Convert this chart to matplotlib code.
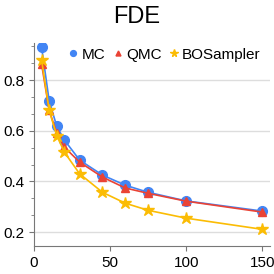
import numpy as np
import matplotlib.pyplot as plt
from matplotlib.ticker import AutoMinorLocator

plt.rcParams['font.family'] = ['Liberation Sans', 'DejaVu Sans']

x = [5, 10, 15, 20, 30, 45, 60, 75, 100, 150]
mc = [0.93, 0.717, 0.617, 0.563, 0.484, 0.425, 0.385, 0.357, 0.323, 0.283]
qmc = [0.863, 0.68, 0.59, 0.535, 0.476, 0.417, 0.374, 0.353, 0.322, 0.279]
bos = [0.88, 0.68, 0.58, 0.515, 0.43, 0.357, 0.314, 0.286, 0.255, 0.211]

fig = plt.figure(figsize=(2.74, 2.74), dpi=100)
ax = fig.add_axes([0.124, 0.102, 0.861, 0.741])

ax.plot(x, mc, color='#4285F4', marker='o', markersize=7, lw=1.2, label='MC')
ax.plot(x, qmc, color='#EA4335', marker='^', markersize=6, lw=1.2, label='QMC')
ax.plot(x, bos, color='#FBBC04', marker='*', markersize=9, lw=1.2, label='BOSampler')

ax.set_xlim(0, 155)
ax.set_ylim(0.145, 0.946)
ax.set_xticks([0, 50, 100, 150])
ax.set_yticks([0.2, 0.4, 0.6, 0.8])
ax.yaxis.set_minor_locator(AutoMinorLocator(3))
ax.grid(axis='y', color='#dddddd', lw=1)
ax.set_axisbelow(True)
for s in ['top', 'right']:
    ax.spines[s].set_visible(False)
for s in ['left', 'bottom']:
    ax.spines[s].set_color('#777777')
ax.tick_params(colors='#777777', labelcolor='black', labelsize=11)
ax.tick_params(which='minor', colors='#777777')
fig.text(0.5, 0.938, 'FDE', fontsize=17, ha='center', va='center')

ax.legend(loc='upper right', bbox_to_anchor=(1.02, 1.045), ncol=3, frameon=False,
          fontsize=11, handlelength=0.6, handletextpad=0.25, columnspacing=0.5,
          markerscale=0.6)
for h in ax.get_legend().get_lines():
    h.set_linestyle('none')

fig.savefig('out.png', dpi=100)
